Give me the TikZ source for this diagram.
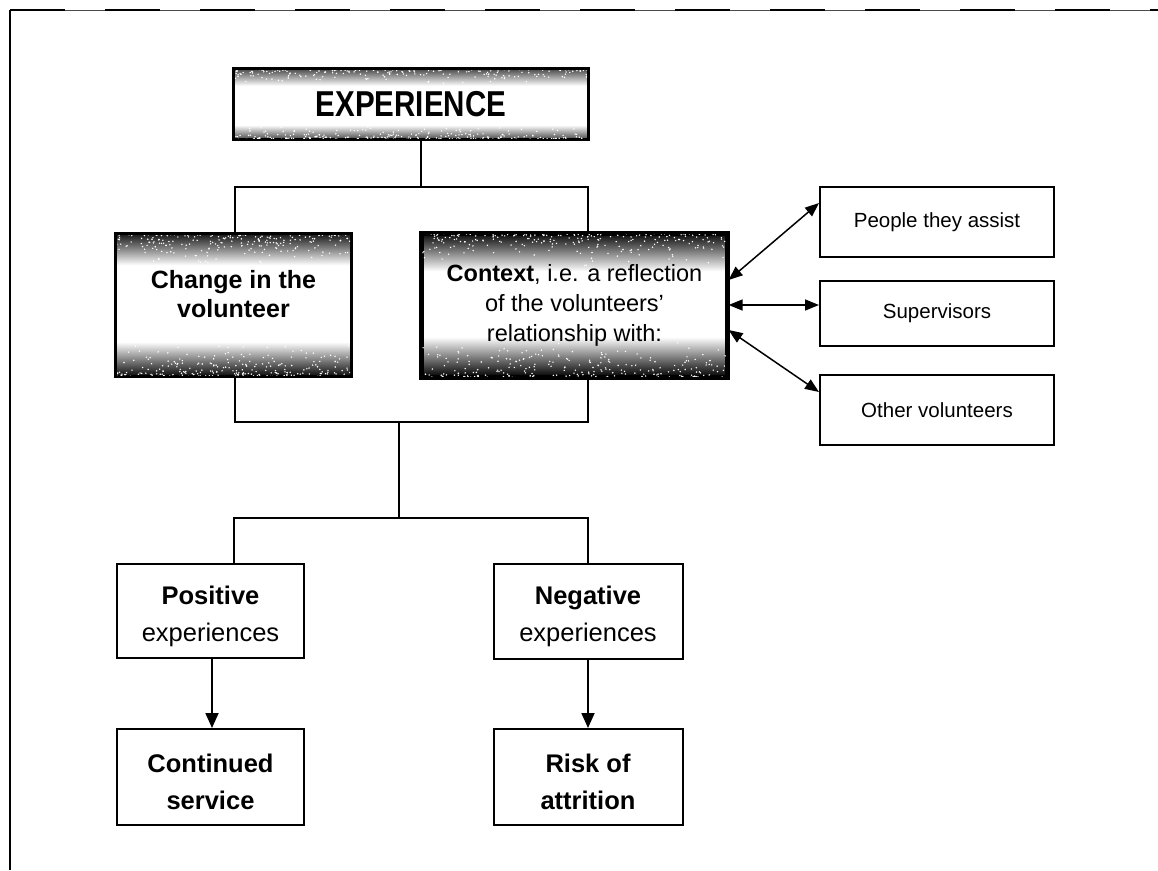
\documentclass[tikz,border=0pt]{standalone}
\usepackage{fontspec}
\setmainfont{Liberation Sans}
\newfontfamily\expfont[FakeStretch=0.82]{Liberation Sans}
\usetikzlibrary{arrows.meta}
% vertical shadings: 25bp = bottom edge, 75bp = top edge of the box
\pgfdeclareverticalshading{shExp}{100bp}{color(0bp)=(black!70); color(25bp)=(black!70); color(35bp)=(white); color(63bp)=(white); color(75bp)=(black!70); color(100bp)=(black!70)}
\pgfdeclareverticalshading{shChg}{100bp}{color(0bp)=(black!95); color(25bp)=(black!95); color(37bp)=(white); color(64bp)=(white); color(75bp)=(black!90); color(100bp)=(black!90)}
\pgfdeclareverticalshading{shCtx}{100bp}{color(0bp)=(black); color(25bp)=(black); color(39bp)=(white); color(62bp)=(white); color(75bp)=(black!95); color(100bp)=(black!95)}
% white specks that give the scanned, grainy look to the shaded bands
\newcommand\specks[5]{% node, width, height, top band, bottom band
  \begin{scope}
    \clip ([shift={(2,-2)}]#1.north west) rectangle ([shift={(-2,2)}]#1.south east);
    \foreach \k in {1,...,260}{
      \fill[white] ([shift={(rnd*#2, -rnd*rnd*#4)}]#1.north west) circle (0.8);
      \fill[white] ([shift={(rnd*#2, rnd*rnd*#5)}]#1.south west) circle (0.8);
    }
  \end{scope}}
\begin{document}
\begin{tikzpicture}[x=1pt,y=1pt,
  box/.style={draw=black, line width=2pt, fill=white, align=center, inner sep=0pt},
  conn/.style={line width=1.8pt},
  downarrow/.style={line width=1.8pt, -{Triangle[length=15pt,width=13pt]}},
  twoway/.style={line width=1.5pt, {Triangle[length=14pt,width=11pt]}-{Triangle[length=14pt,width=11pt]}},
  bigtext/.style={font=\fontsize{25.5}{37}\selectfont},
  boldtext/.style={font=\bfseries\fontsize{25.5}{37}\selectfont},
  smalltext/.style={font=\fontsize{20.5}{24}\selectfont}
]
\pgfmathsetseed{7}
\useasboundingbox (0,0) rectangle (1158,-870);
% outer frame (scanned, partly broken top line)
\draw[line width=0.7pt, black!70] (10,-10) -- (1158,-10);
\draw[line width=2pt, dash pattern=on 55pt off 40pt] (10,-10) -- (1158,-10);
\draw[line width=1.2pt] (10,-10) -- (10,-870);

% nodes
\node[box, shading=shExp, minimum width=354pt, minimum height=70pt] (exp) at (411,-104)
  {\expfont\bfseries\fontsize{36}{40}\selectfont EXPERIENCE};
\node[box, shading=shChg, minimum width=235pt, minimum height=142pt,
      font=\bfseries\fontsize{25}{29}\selectfont] (chg) at (233.5,-305)
  {Change in the\\volunteer\\[-7pt]};
\node[box, shading=shCtx, line width=3.2pt, minimum width=305pt, minimum height=143pt,
      font=\fontsize{23.5}{30}\selectfont] (ctx) at (574.5,-305.5)
  {\textbf{Context}, i.e. a reflection\\of the volunteers'\\relationship with:\\[-24pt]};

\node[box, smalltext, minimum width=234pt, minimum height=70pt] (ppl) at (937,-222) {People they assist};
\node[box, smalltext, minimum width=234pt, minimum height=65pt] (sup) at (937,-313.5) {Supervisors};
\node[box, smalltext, minimum width=234pt, minimum height=70pt] (oth) at (937,-410) {Other volunteers};

\node[box, bigtext, minimum width=187pt, minimum height=94pt] (pos) at (210.5,-611)
  {\rule{0pt}{28.5pt}\textbf{Positive}\\experiences};
\node[box, bigtext, minimum width=189pt, minimum height=95pt] (neg) at (588,-611)
  {\rule{0pt}{28.5pt}\textbf{Negative}\\experiences};
\node[box, boldtext, minimum width=187pt, minimum height=96pt] (cont) at (210.5,-777)
  {\rule{0pt}{28.5pt}Continued\\service};
\node[box, boldtext, minimum width=189pt, minimum height=96pt] (risk) at (588,-777)
  {\rule{0pt}{28.5pt}Risk of\\attrition};

% grain on the shaded boxes
\specks{exp}{354}{70}{16}{14}
\specks{chg}{235}{142}{32}{36}
\specks{ctx}{305}{143}{36}{40}
\draw[line width=2pt] (exp.north west) rectangle (exp.south east);
\draw[line width=2pt] (chg.north west) rectangle (chg.south east);
\draw[line width=3.2pt] (ctx.north west) rectangle (ctx.south east);

% junction coordinates
\coordinate (j1) at (421,-187);
\coordinate (j2) at (399,-422);
\coordinate (j3) at (399,-518);

% top tree
\draw[conn] (exp.south -| j1) -- (j1);
\draw[conn] ([xshift=1.5pt]chg.north) |- (j1) -| ([xshift=13.5pt]ctx.north);
% middle join
\draw[conn] ([xshift=1.5pt]chg.south) |- (j2) -| ([xshift=13.5pt]ctx.south);
\draw[conn] (j2) -- (j3);
% lower split
\draw[conn] ([xshift=23.5pt]pos.north) |- (j3) -| (neg.north);

% outcomes
\draw[downarrow] ([xshift=1.5pt]pos.south) -- ([xshift=1.5pt]cont.north);
\draw[downarrow] (neg.south) -- (risk.north);

% relationships
\draw[twoway] ([yshift=25.5pt]ctx.east) -- ([yshift=19pt]ppl.west);
\draw[twoway] ([yshift=0.5pt]ctx.east) -- ([yshift=8.5pt]sup.west);
\draw[twoway] ([yshift=-24.5pt]ctx.east) -- ([yshift=18pt]oth.west);
\end{tikzpicture}
\end{document}
